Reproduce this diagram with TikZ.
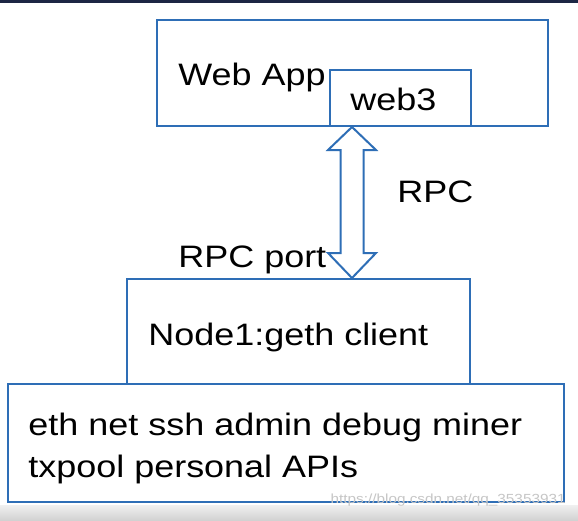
\documentclass[tikz,border=0pt]{standalone}
\usepackage{fontspec}
\setmainfont{Liberation Sans}[FakeStretch=1.16]
\usetikzlibrary{calc}
\pgfdeclarelayer{edgelayer}
\pgfdeclarelayer{nodelayer}
\pgfsetlayers{edgelayer,nodelayer,main}
\definecolor{boxblue}{RGB}{46,110,182}
\definecolor{topnavy}{RGB}{28,38,68}
\tikzstyle{box}=[rectangle, draw=boxblue, line width=1pt, fill=white, inner sep=0pt]
\tikzstyle{txt}=[inner sep=0pt, anchor=base west, font=\fontsize{15.5}{21}\selectfont]
\tikzstyle{rpcarrow}=[draw=boxblue, line width=1pt, fill=white, line join=miter]

\begin{document}
\begin{tikzpicture}[x=0.5pt, y=-0.5pt]
				\useasboundingbox (0, 0) rectangle (578, 520);
				\begin{pgfonlayer}{edgelayer}
					\fill [top color=gray!12, bottom color=gray!35] (0, 505) rectangle (578, 520);
					\fill [topnavy] (0, 0) rectangle (578, 3);
				\end{pgfonlayer}
				\begin{pgfonlayer}{nodelayer}
					\node [style=box, minimum width=195.5pt, minimum height=53pt] (webapp) at (352.5, 73) {};
					\node [style=box, minimum width=70.5pt, minimum height=28pt] (web3) at (400.5, 98) {};
					\node [style=box, minimum width=171.5pt, minimum height=52.5pt] (geth) at (298.5, 331.5) {};
					\node [style=box, minimum width=278pt, minimum height=59pt] (apis) at (286, 443) {};
					\node [style=txt] (webapptxt) at (178, 85) {Web App};
					\node [style=txt] (web3txt) at (350, 110) {web3};
					\node [style=txt] (rpctxt) at (397, 202) {RPC};
					\node [style=txt] (porttxt) at (178, 267) {RPC port};
					\node [style=txt] (gethtxt) at (148, 345) {Node1:geth client};
					\node [style=txt] (apistxt1) at (28, 435) {eth net ssh admin debug miner};
					\node [style=txt] (apistxt2) at (28, 477) {txpool personal APIs};
					\node [inner sep=0pt, anchor=base east, text=gray!45, font=\fontsize{6.6}{8}\selectfont] (mark) at (566, 503) {https://blog.csdn.net/qq\_35353931};
				\end{pgfonlayer}
				\coordinate (rpctop) at ($(web3.south west)+(23, 0)$);
				\coordinate (rpcbot) at ($(geth.north west)+(226, 0)$);
				\draw [style=rpcarrow] (rpctop) -- ++(24, 23) -- ++(-12.5, 0) -- ++(0, 103) -- ++(12.5, 0)
					-- (rpcbot) -- ++(-24, -25) -- ++(12.5, 0) -- ++(0, -103) -- ++(-12.5, 0) -- cycle;
			\end{tikzpicture}
\end{document}
